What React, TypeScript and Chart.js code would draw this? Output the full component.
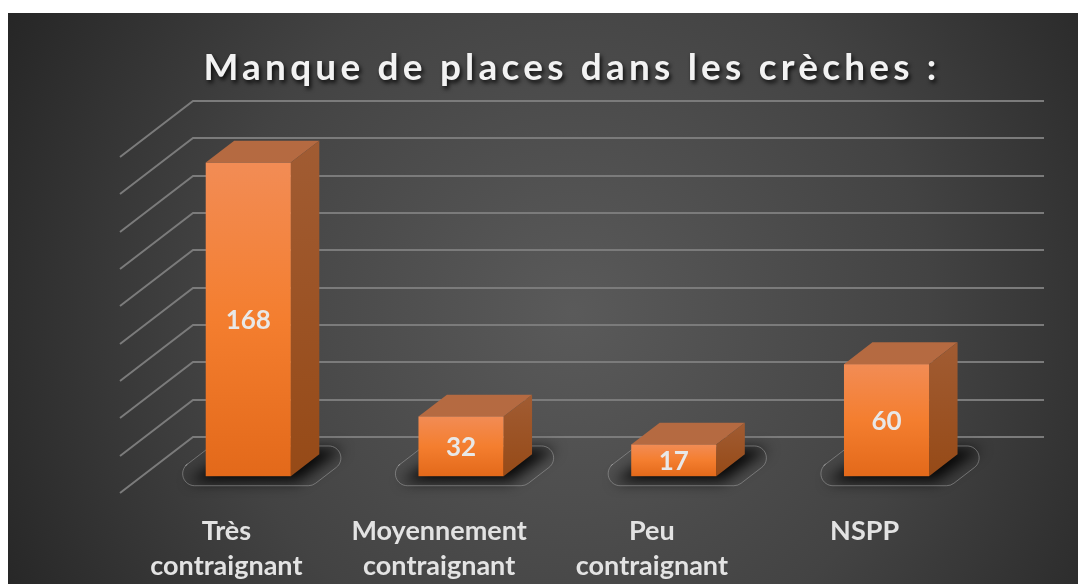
import React, { useEffect, useRef } from 'react';
import { Chart, registerables } from 'chart.js';

Chart.register(...registerables);

// ---- data ----
const categories: (string | string[])[] = [
  ['Très', 'contraignant'],
  ['Moyennement', 'contraignant'],
  ['Peu', 'contraignant'],
  'NSPP',
];
const values = [168, 32, 17, 60];
const yMin = 0;
const yMax = 180;
const yStep = 20;
const titleText = 'Manque de places dans les crèches :';

// ---- 3D look (styling only) ----
const DX = 73; // back wall offset (x)
const DY = 56; // back wall offset (y)
const BAR_FRONT = 0.3;
const BAR_BACK = 0.69;

function roundedPoly(ctx: CanvasRenderingContext2D, pts: number[][], r: number) {
  ctx.beginPath();
  const n = pts.length;
  const start = [(pts[0][0] + pts[n - 1][0]) / 2, (pts[0][1] + pts[n - 1][1]) / 2];
  ctx.moveTo(start[0], start[1]);
  for (let i = 0; i < n; i++) {
    const p = pts[i];
    const q = pts[(i + 1) % n];
    ctx.arcTo(p[0], p[1], q[0], q[1], r);
  }
  ctx.closePath();
}

function poly(ctx: CanvasRenderingContext2D, pts: number[][]) {
  ctx.beginPath();
  ctx.moveTo(pts[0][0], pts[0][1]);
  for (let i = 1; i < pts.length; i++) ctx.lineTo(pts[i][0], pts[i][1]);
  ctx.closePath();
}

const threeDPlugin = {
  id: 'threeD',
  beforeDraw(chart: any) {
    const { ctx, width, height } = chart;
    ctx.save();
    const g = ctx.createRadialGradient(565, 300, 0, 565, 300, 650);
    g.addColorStop(0, '#5a5a5a');
    g.addColorStop(0.55, '#434343');
    g.addColorStop(1, '#252525');
    ctx.fillStyle = g;
    ctx.fillRect(0, 0, width, height);
    ctx.restore();
  },
  beforeDatasetsDraw(chart: any) {
    const { ctx, chartArea, scales } = chart;
    const y = scales.y;
    ctx.save();
    ctx.strokeStyle = '#7b7b7b';
    ctx.lineWidth = 2;
    y.ticks.forEach((t: any) => {
      const py = Math.round(y.getPixelForValue(t.value));
      ctx.beginPath();
      ctx.moveTo(chartArea.left, py);
      ctx.lineTo(chartArea.left + DX, py - DY);
      ctx.lineTo(chartArea.right + DX, py - DY);
      ctx.stroke();
    });
    ctx.restore();

    // floor shadows
    const meta = chart.getDatasetMeta(0);
    const base = y.getPixelForValue(0);
    meta.data.forEach((bar: any) => {
      const { x, width } = bar.getProps(['x', 'width'], true);
      const L = x - width / 2;
      const R = x + width / 2;
      const P = (px: number, d: number) => [px + DX * d, base - DY * d];
      ctx.save();
      ctx.filter = 'blur(7px)';
      ctx.fillStyle = 'rgba(0,0,0,0.9)';
      poly(ctx, [P(L - 10, 0.2), P(R + 14, 0.2), P(R + 16, 0.8), P(L - 4, 0.8)]);
      ctx.fill();
      ctx.restore();
      ctx.save();
      ctx.strokeStyle = 'rgba(160,160,160,0.55)';
      ctx.lineWidth = 1;
      roundedPoly(ctx, [P(L - 34, 0.13), P(R + 34, 0.13), P(R + 34, 0.84), P(L - 34, 0.84)], 12);
      ctx.stroke();
      ctx.restore();
    });
  },
  afterDatasetsDraw(chart: any) {
    const { ctx, scales } = chart;
    const y = scales.y;
    const base = y.getPixelForValue(0);
    const meta = chart.getDatasetMeta(0);
    const ds = chart.data.datasets[0];
    meta.data.forEach((bar: any, i: number) => {
      const { x, y: top, width } = bar.getProps(['x', 'y', 'width'], true);
      const L = x - width / 2;
      const R = x + width / 2;
      const o1x = DX * BAR_FRONT, o1y = -DY * BAR_FRONT;
      const o2x = DX * BAR_BACK, o2y = -DY * BAR_BACK;
      const fT = top + o1y, fB = base + o1y;
      const bT = top + o2y, bB = base + o2y;
      ctx.save();
      // top face
      ctx.fillStyle = '#b56a41';
      poly(ctx, [[L + o1x, fT], [R + o1x, fT], [R + o2x, bT], [L + o2x, bT]]);
      ctx.fill();
      // side face
      const sg = ctx.createLinearGradient(0, bT, 0, fB);
      sg.addColorStop(0, '#a15c33');
      sg.addColorStop(1, '#964a17');
      ctx.fillStyle = sg;
      poly(ctx, [[R + o1x, fT], [R + o2x, bT], [R + o2x, bB], [R + o1x, fB]]);
      ctx.fill();
      // front face
      const fg = ctx.createLinearGradient(0, fT, 0, fB);
      fg.addColorStop(0, '#f28c55');
      fg.addColorStop(0.5, '#f47e2f');
      fg.addColorStop(1, '#e3691a');
      ctx.fillStyle = fg;
      ctx.fillRect(L + o1x, fT, R - L, fB - fT);
      // data label
      ctx.fillStyle = '#e8e8e8';
      ctx.font = 'bold 26px Lato';
      ctx.textAlign = 'center';
      ctx.textBaseline = 'middle';
      ctx.fillText(String(ds.data[i]), x + o1x, (fT + fB) / 2 + 1);
      ctx.restore();
    });
  },
  afterDraw(chart: any) {
    const { ctx } = chart;
    ctx.save();
    ctx.font = 'bold 37px Lato';
    (ctx as any).letterSpacing = '4.2px';
    ctx.textAlign = 'center';
    ctx.textBaseline = 'alphabetic';
    ctx.shadowColor = 'rgba(0,0,0,0.8)';
    ctx.shadowOffsetX = 2;
    ctx.shadowOffsetY = 3;
    ctx.shadowBlur = 4;
    ctx.fillStyle = '#f2f2f2';
    ctx.fillText(titleText, 564, 67);
    ctx.restore();
  },
};

export default function App() {
  const canvasRef = useRef<HTMLCanvasElement | null>(null);

  useEffect(() => {
    if (!canvasRef.current) return;
    const chart = new Chart(canvasRef.current, {
      type: 'bar',
      data: {
        labels: categories as any,
        datasets: [
          {
            label: titleText,
            data: values,
            backgroundColor: 'rgba(0,0,0,0)',
            borderWidth: 0,
            barPercentage: 0.4,
            categoryPercentage: 1.0,
          },
        ],
      },
      options: {
        animation: false,
        responsive: true,
        maintainAspectRatio: false,
        devicePixelRatio: 1,
        layout: { padding: { left: 112, right: 107, top: 144, bottom: 2 } },
        plugins: {
          legend: { display: false },
          title: { display: false },
          tooltip: { enabled: false },
        },
        scales: {
          x: {
            type: 'category',
            grid: { display: false, drawTicks: false },
            border: { display: false },
            ticks: {
              color: '#e3e3e3',
              font: { family: 'Lato', weight: 'bold', size: 27, lineHeight: 1.3 },
              padding: 21,
              maxRotation: 0,
              autoSkip: false,
            },
            afterFit: (scale: any) => {
              scale.height = 89;
            },
          },
          y: {
            display: false,
            min: yMin,
            max: yMax,
            ticks: { stepSize: yStep },
          },
        },
      },
      plugins: [threeDPlugin],
    });
    return () => chart.destroy();
  }, []);

  return (
    <div style={{ position: 'fixed', left: 8, top: 13, width: 1070, height: 571 }}>
      <canvas ref={canvasRef} />
    </div>
  );
}
